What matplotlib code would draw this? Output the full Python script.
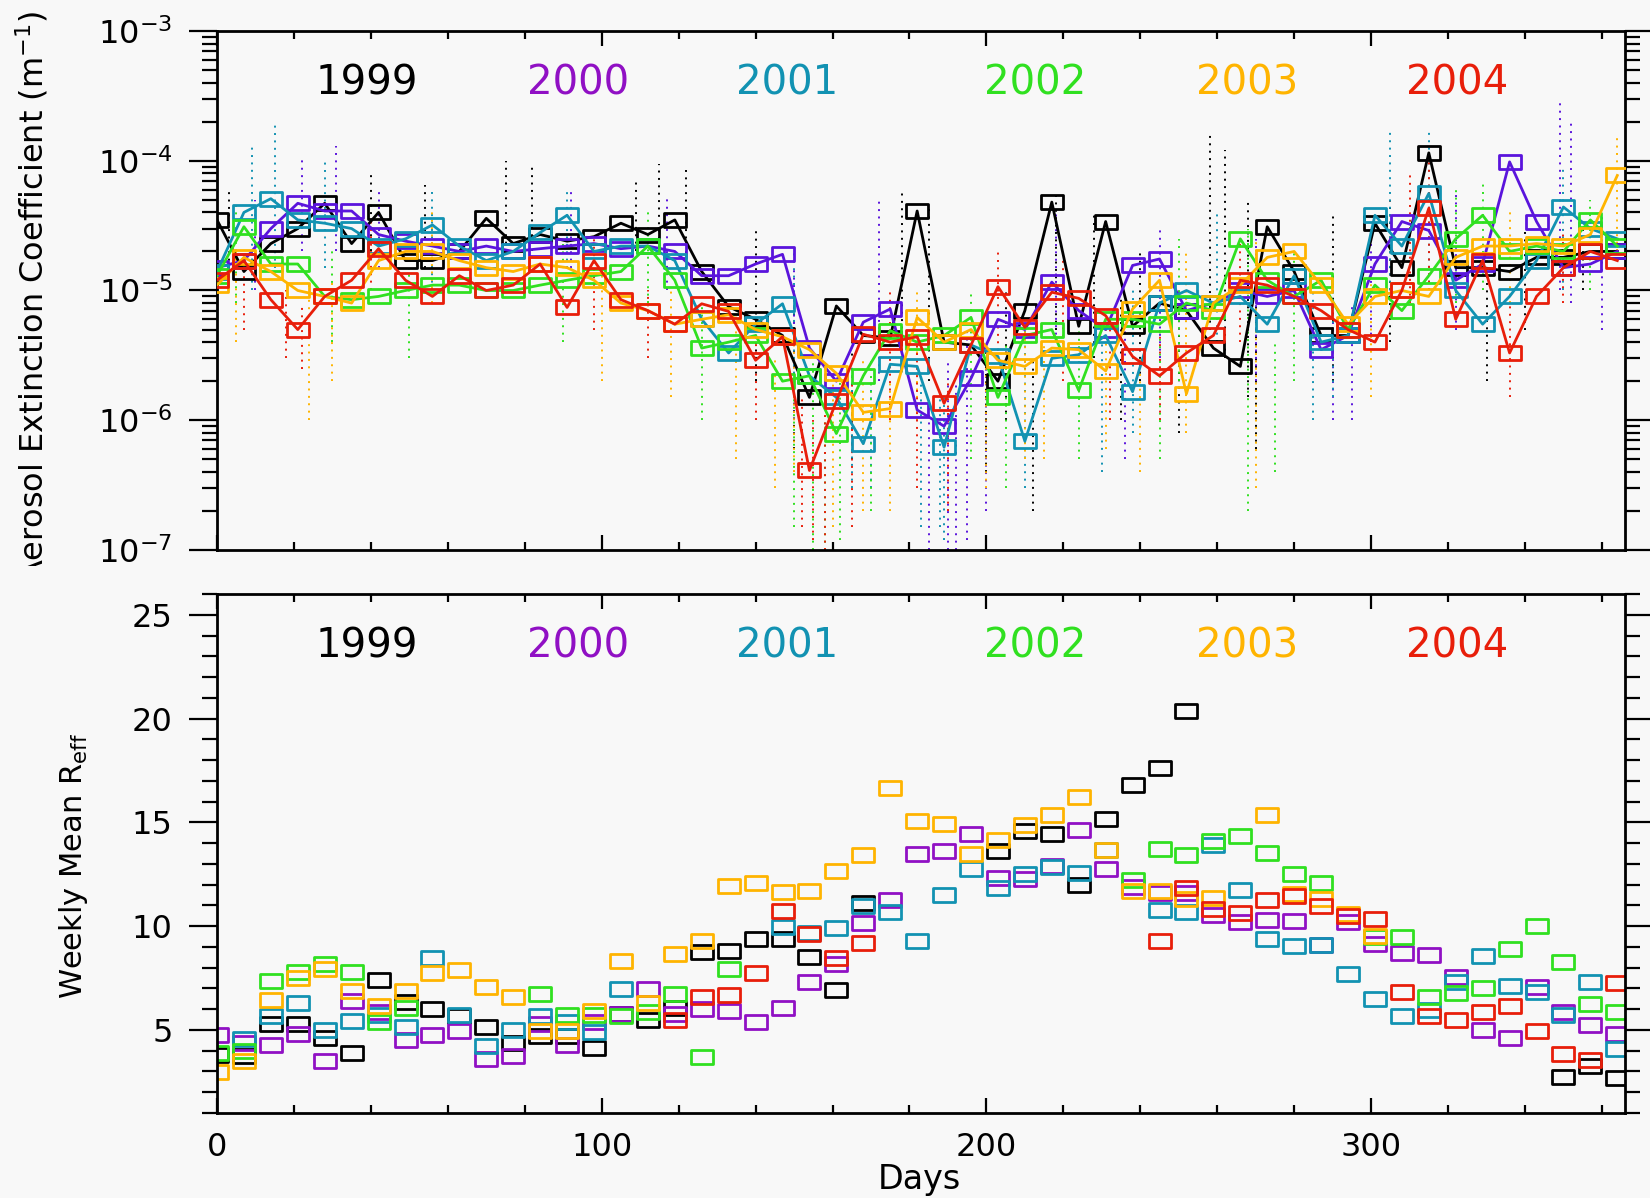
import numpy as np
import matplotlib
matplotlib.use("Agg")
import matplotlib.pyplot as plt
from matplotlib.path import Path
from matplotlib.transforms import Bbox, TransformedBbox
import matplotlib.ticker as mticker

# ---------------- data ----------------
days = list(range(0, 365, 7))          # weekly days 0..364 (53 weeks)
years = ["1999", "2000", "2001", "2002", "2003", "2004"]

# Top panel: weekly mean aerosol extinction coefficient, in units of 1e-6 m^-1
ext_1999 = [35, 14, 23, 30, 47, 23, 40, 17, 17, 20, 36, 23, 27, 24, 26, 33, 27, 35,
            14, 7.5, 6, 4.5, 1.5, 7.6, 4.5, 4.3, 41, 4.0, 3.8, 2.0, 7.0, 48, 5.3, 34,
            5.3, 8, 7, 3.6, 2.6, 31, 14, 4.5, 4.5, 33, 15, 115, 15, 15, 14, 18, 18, 20, 20]
ext_2000 = [15, 17, 30, 47, 41, 41, 27, 24, 22, 20, 22, 20, 21, 22, 23, 21, 22, 20,
            13, 13, 16, 19, 3.6, 2.0, 5.7, 7.2, 1.2, 0.9, 2.1, 6.0, 5.0, 11.6, 7, 5,
            15.6, 17.5, 7, 8, 10, 9, 10, 3.5, 4.5, 16, 34, 29, 12, 16, 98, 34, 15, 16, 20]
ext_2001 = [14, 40, 51, 35, 33, 30, 22, 25, 32, 22, 17, 20, 28, 38, 20, 22, 22, 17,
            6, 3.3, 5.5, 7.9, 2.2, 1.5, 0.66, 2.7, 2.6, 0.62, 3.8, 3.1, 0.69, 3.0, 3.2, 4.5,
            1.66, 8, 10, 8, 9, 5.5, 13, 4, 4.5, 38, 22, 56, 10, 5.5, 9, 17, 44, 30, 25]
ext_2002 = [13, 31, 16, 16, 9, 8.5, 9, 10, 11, 11, 10, 10, 11, 12, 13, 14, 22, 12,
            3.6, 4, 4.5, 2.0, 2.2, 0.79, 2.2, 4.9, 4, 4.5, 6.2, 1.5, 4.5, 5, 1.7, 6,
            6, 5.5, 8, 7, 25, 12, 9, 12, 5, 11, 7, 13, 25, 38, 20, 22, 20, 35, 22]
ext_2003 = [11, 18, 14, 10, 9, 8, 17, 20, 20, 17, 15, 14, 16, 15, 12, 8, 7, 5.5,
            6, 6.5, 5, 4.4, 3.5, 2.3, 1.15, 1.23, 6.2, 4.0, 5, 2.9, 2.6, 3.6, 3.5, 2.4,
            7.2, 12, 1.6, 8, 11, 18, 20, 11, 5.5, 9, 10, 9, 18, 22, 22, 23, 22, 27, 77]
ext_2004 = [12, 17, 8.5, 5, 9, 12, 21, 12, 9, 13, 10, 11, 16, 7.4, 17, 8.5, 7, 5.5,
            7.9, 6.9, 2.9, 4.4, 0.41, 1.4, 4.6, 4.0, 4.4, 1.35, 3.8, 10.7, 5.2, 9.7, 8.7, 6.4,
            3.1, 2.2, 3.3, 4.5, 12, 11, 9, 7, 5, 4, 10, 43, 6, 17, 3.3, 9, 15, 20, 17]

# Top panel: individual (daily) retrievals, read as vertical spreads of dots:
# day, lowest and highest dot (units of 1e-6 m^-1)
dot_day_1999 = [3, 40, 54, 75, 82, 109, 115, 122, 140, 150, 165, 178, 185, 200, 205, 212,
                218, 228, 235, 240, 250, 258, 262, 268, 270, 290, 305, 330, 340, 355]
dot_lo_1999 = [15, 20, 15, 20, 20, 20, 25, 15, 2, 0.6, 0.5, 3, 2, 0.4, 1, 0.2, 5, 3, 1, 2,
               0.8, 5, 3, 1.5, 0.6, 2, 4, 2, 5, 10]
dot_hi_1999 = [60, 80, 65, 100, 90, 70, 95, 90, 30, 8, 5, 60, 45, 4, 10, 3, 55, 40, 10, 20,
               10, 170, 120, 50, 8, 40, 50, 15, 30, 30]
dot_day_2000 = [10, 22, 31, 42, 92, 117, 150, 172, 185, 190, 192, 195, 200, 218, 236, 245,
                270, 290, 295, 300, 322, 349, 352, 360]
dot_lo_2000 = [10, 20, 20, 15, 15, 10, 1, 2, 0.1, 0.1, 0.1, 0.12, 0.2, 4, 0.5, 3, 2, 1, 1,
               4, 5, 10, 8, 5]
dot_hi_2000 = [50, 110, 130, 60, 60, 55, 15, 50, 1.5, 3, 2, 5, 3, 40, 6, 30, 25, 6, 8, 30,
               60, 300, 200, 40]
dot_day_2001 = [9, 15, 28, 56, 91, 150, 165, 170, 183, 188, 189, 210, 230, 238, 260, 285,
                290, 305, 315, 350]
dot_lo_2001 = [10, 15, 15, 10, 15, 2, 0.3, 0.3, 0.15, 0.15, 0.12, 0.3, 0.4, 0.8, 4, 1, 1.5,
               10, 10, 10]
dot_hi_2001 = [130, 190, 100, 60, 60, 20, 3, 2, 2, 1.5, 1.5, 5, 4, 10, 40, 10, 10, 170, 170,
               90]
dot_day_2002 = [5, 30, 50, 90, 112, 126, 150, 155, 158, 162, 170, 196, 205, 224, 245, 250,
                268, 275, 280, 322, 329, 357]
dot_lo_2002 = [8, 4, 3, 4, 8, 1, 0.15, 0.1, 0.1, 0.12, 0.2, 0.5, 0.3, 0.5, 0.5, 2, 0.2, 0.4,
               2, 8, 10, 10]
dot_hi_2002 = [50, 20, 15, 25, 40, 8, 2, 3, 1, 2, 3, 10, 4, 5, 5, 25, 30, 4, 20, 60, 70, 50]
dot_day_2003 = [5, 24, 30, 56, 100, 118, 135, 145, 150, 160, 168, 175, 182, 200, 210, 215,
                231, 240, 252, 270, 300, 336, 364]
dot_lo_2003 = [4, 1.0, 2, 8, 2, 1.5, 0.5, 0.3, 0.4, 0.15, 0.2, 0.2, 1, 0.3, 0.5, 0.5, 0.6,
               0.4, 0.8, 0.3, 1.5, 8, 20]
dot_hi_2003 = [20, 15, 12, 40, 15, 10, 8, 3, 5, 2, 3, 2, 10, 3, 5, 4, 6, 3, 20, 25, 15, 40,
               150]
dot_day_2004 = [7, 18, 22, 40, 98, 112, 140, 152, 155, 158, 165, 175, 182, 190, 203, 220,
                232, 245, 266, 310, 315, 336, 350]
dot_lo_2004 = [5, 3, 2.5, 10, 5, 3, 1, 0.15, 0.12, 0.1, 0.15, 1, 0.3, 0.2, 3, 2, 1, 1, 4, 8,
               10, 1.5, 8]
dot_hi_2004 = [20, 10, 8, 35, 25, 10, 6, 1.5, 1, 2, 2, 10, 4, 2, 20, 20, 6, 5, 25, 80, 110,
               8, 30]

nan = float("nan")
# Bottom panel: weekly mean effective radius
reff_1999 = [3.78, 3.75, 5.3, 5.3, 4.62, 3.9, 7.4, 6.35, 6.0, 5.67, 5.13, 4.35, 4.73, 4.7,
             4.12, 5.78, 5.48, 6.05, 8.75, 8.78, 9.36, 9.39, 8.53, 6.92, 11.1, nan, nan, nan,
             nan, 13.64, 14.6, 14.46, 12.0, 15.18, 16.8, 17.63, 20.38, nan, nan, nan, nan,
             nan, nan, nan, nan, nan, nan, nan, nan, nan, 2.72, 3.24, 2.68]
reff_2000 = [4.76, 4.35, 4.26, 4.79, 3.5, 6.4, 5.85, 4.5, 4.74, 4.97, 3.59, 3.75, 5.3, 4.26,
             5.4, 5.75, 6.96, 5.75, 6.0, 5.9, 5.4, 6.04, 7.32, 8.2, 10.16, 11.25, 13.48, 13.64,
             14.42, 12.34, 12.29, 12.9, 14.62, 12.77, 11.9, 11.6, 11.6, 10.53, 10.18, 10.29,
             10.26, 9.07, 10.22, 9.13, 8.69, 8.59, 7.53, 5.0, 4.63, 7.08, 5.88, 5.26, 4.82]
reff_2001 = [nan, 4.55, 5.69, 6.3, 5.0, 5.42, 5.7, 5.13, 8.45, 5.7, 4.23, 5.0, 5.67, 5.4,
             4.9, 6.99, nan, nan, nan, nan, nan, 9.94, 9.68, 9.89, 10.98, 10.69, 9.29, 11.49,
             12.77, 11.86, 12.53, 12.84, 12.58, 13.65, nan, 10.8, 10.66, 13.89, 11.76, 9.38,
             9.05, 9.07, 7.69, 6.47, 5.67, 5.95, 7.32, 8.57, 7.13, 6.81, 5.74, 7.29, 4.07]
reff_2002 = [3.88, 4.0, 7.34, 7.8, 8.17, 7.8, 5.38, 6.05, nan, nan, nan, nan, 6.73, 5.72,
             5.7, 5.69, 5.85, 6.73, 3.7, 7.96, nan, nan, nan, nan, nan, nan, nan, nan,
             nan, nan, nan, nan, nan, nan, 12.24, 13.73, 13.41, 14.1, 14.33, 13.53, 12.5,
             12.08, nan, 9.49, 9.47, 6.57, 6.76, 7.04, 8.89, 10.0, 8.29, 6.25, 5.88]
reff_2003 = [2.96, 3.5, 6.44, 7.5, 7.96, 6.9, 6.15, 6.9, 7.72, 7.88, 7.08, 6.57, 4.94, 4.95,
             5.93, 8.33, 6.28, 8.64, 9.29, 11.92, 12.08, 11.65, 11.7, 12.64, 13.41, 16.65,
             15.08, 14.92, 13.48, 14.17, 14.86, 15.34, 16.22, 13.69, 11.7, 11.7, 11.3, 11.36,
             nan, 15.35, 11.55, 11.3, 10.58, 9.54, nan, nan, nan, nan, nan, nan, nan, nan, nan]
reff_2004 = [nan, nan, nan, nan, nan, nan, nan, nan, nan, nan, nan, nan, nan, nan, nan, nan,
             nan, 5.5, 6.57, 6.68, 7.76, 10.72, 9.6, 8.49, 9.17, nan, nan, nan, nan, nan,
             nan, nan, nan, nan, nan, 9.29, 11.86, 10.82, 10.61, 11.25, 11.46, 10.98, 10.5,
             10.34, 6.81, 5.69, 5.48, 5.88, 6.17, 4.95, 3.85, 3.53, 7.24]

ext_series = [ext_1999, ext_2000, ext_2001, ext_2002, ext_2003, ext_2004]
reff_series = [reff_1999, reff_2000, reff_2001, reff_2002, reff_2003, reff_2004]
dot_series = [(dot_day_1999, dot_lo_1999, dot_hi_1999), (dot_day_2000, dot_lo_2000, dot_hi_2000),
              (dot_day_2001, dot_lo_2001, dot_hi_2001), (dot_day_2002, dot_lo_2002, dot_hi_2002),
              (dot_day_2003, dot_lo_2003, dot_hi_2003), (dot_day_2004, dot_lo_2004, dot_hi_2004)]

# ---------------- style ----------------
BG = "#f8f8f8"
label_colors = ["#000000", "#9010c4", "#1292b2", "#30e020", "#ffb400", "#e81e0a"]
top_colors = ["#000000", "#5a14dc", "#1292b2", "#30e020", "#ffb400", "#e81e0a"]
bottom_colors = label_colors

plt.rcParams["font.family"] = ["DejaVu Sans"]
plt.rcParams["mathtext.fontset"] = "dejavusans"

rect = Path([(-1, -0.652), (1, -0.652), (1, 0.652), (-1, 0.652), (-1, -0.652)],
            [Path.MOVETO, Path.LINETO, Path.LINETO, Path.LINETO, Path.CLOSEPOLY])

fig = plt.figure(figsize=(16.5, 11.98), dpi=100, facecolor=BG)
W, H = 1650.0, 1198.0
L, R = 217, 1625
ax1 = fig.add_axes([L / W, 1 - 550 / H, (R - L) / W, 519 / H], facecolor=BG)
ax2 = fig.add_axes([L / W, 1 - 1113 / H, (R - L) / W, 519 / H], facecolor=BG)

# dots (daily retrievals) first, below the weekly means
for (dd, lo, hi), c in zip(dot_series, top_colors):
    ax1.vlines(dd, np.array(lo) * 1e-6, np.array(hi) * 1e-6, colors=c, lw=1.4,
               linestyles=(0, (1, 2.8)), zorder=1)

for vals, c in zip(ext_series, top_colors):
    ax1.plot(days, np.array(vals) * 1e-6, color=c, lw=2.0, marker=rect, ms=15.5,
             mfc="none", mec=c, mew=2.0, zorder=3)
ax1.set_yscale("log")
ax1.set_ylim(1e-7, 1e-3)

for vals, c in zip(reff_series, bottom_colors):
    ax2.plot(days, vals, ls="none", marker=rect, ms=15.5, mfc="none", mec=c, mew=2.0)
ax2.set_ylim(1, 26)
ax2.yaxis.set_major_locator(mticker.MultipleLocator(5))
ax2.yaxis.set_minor_locator(mticker.MultipleLocator(1))

for ax in (ax1, ax2):
    ax.set_xlim(0, 366)
    ax.xaxis.set_major_locator(mticker.MultipleLocator(100))
    ax.xaxis.set_minor_locator(mticker.MultipleLocator(20))
    ax.tick_params(axis="x", which="both", direction="in", top=True, bottom=True, width=1.6)
    ax.tick_params(axis="x", which="major", length=11)
    ax.tick_params(axis="x", which="minor", length=5.5)
    ax.tick_params(axis="y", which="both", direction="out", left=True, right=True, width=1.6)
    ax.tick_params(axis="y", which="major", length=20, pad=12)
    ax.tick_params(axis="y", which="minor", length=11)
    ax.tick_params(labelsize=23)
    for s in ax.spines.values():
        s.set_linewidth(2.0)
    for lab, c, xf in zip(years, label_colors,
                          [0.1065, 0.2564, 0.4048, 0.581, 0.7315, 0.8807]):
        ax.text(xf, 0.898, lab, color=c, fontsize=29, ha="center", va="center",
                transform=ax.transAxes)

ax1.tick_params(axis="x", labelbottom=False)
ax2.tick_params(axis="x", pad=14)

t1 = fig.text(32 / W, 1 - 296 / H, "Aerosol Extinction Coefficient (m$^{-1}$)",
              rotation=90, ha="center", va="center", fontsize=23)
t1.set_clip_box(TransformedBbox(Bbox([[0, 1 - 566 / H], [1, 1]]), fig.transFigure))
t1.set_clip_on(True)
fig.text(73 / W, 1 - 866 / H, "Weekly Mean R$_{\\rm eff}$", rotation=90,
         ha="center", va="center", fontsize=22)
fig.text(919 / W, 1 - 1180 / H, "Days", ha="center", va="center", fontsize=24)

fig.savefig("out.png", dpi=100, facecolor=BG)
